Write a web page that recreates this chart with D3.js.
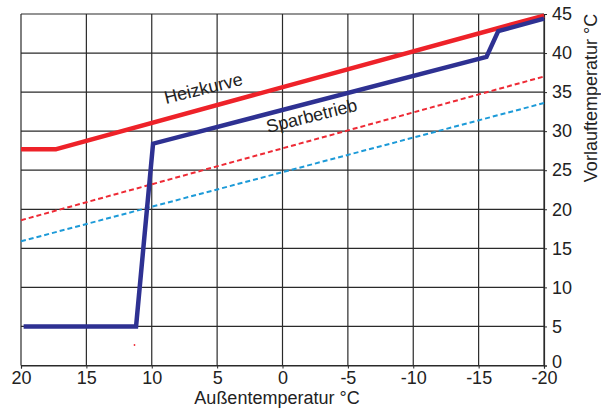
<!DOCTYPE html>
<html><head><meta charset="utf-8">
<script src="https://cdn.jsdelivr.net/npm/d3@7"></script>
<style>body{margin:0;background:#fff}svg{display:block}text{font-family:"Liberation Sans",Arial,sans-serif;fill:#222}</style>
</head><body><svg id="c" width="601" height="410"></svg>
<script>
// Data
const xTicks = [20, 15, 10, 5, 0, -5, -10, -15, -20];
const yTicks = [0, 5, 10, 15, 20, 25, 30, 35, 40, 45];
const heizkurveX = [20, 17.3, -20];
const heizkurveY = [27.7, 27.7, 44.8];
const sparX = [19.8, 11.2, 9.9, -15.6, -16.5, -20];
const sparY = [5.0, 5.0, 28.4, 39.5, 42.8, 44.4];
const redDashX = [20, -20];
const redDashY = [18.6, 37.0];
const blueDashX = [20, -20];
const blueDashY = [15.9, 33.6];
const labels = ["Heizkurve", "Sparbetrieb"];
const xTitle = "Außentemperatur °C";
const yTitle = "Vorlauftemperatur °C";

const svg = d3.select("#c");
const L = 21, R = 544, T = 14, B = 365.5;
const x = d3.scaleLinear().domain([20, -20]).range([L, R]);
const y = d3.scaleLinear().domain([0, 45]).range([B, T]);

// grid
const g = svg.append("g");
g.selectAll(".vx").data(xTicks).join("line")
  .attr("x1", d => x(d)).attr("x2", d => x(d)).attr("y1", T).attr("y2", B)
  .attr("stroke", "#2a2a2a").attr("stroke-width", 1.2);
g.selectAll(".hy").data(yTicks).join("line")
  .attr("y1", d => y(d)).attr("y2", d => y(d)).attr("x1", L).attr("x2", R)
  .attr("stroke", "#2a2a2a").attr("stroke-width", 1.2);

// axes
const xAxis = d3.axisBottom(x).tickValues(xTicks).tickSize(3).tickFormat(d => d < 0 ? "-" + Math.abs(d) : d);
const ax = svg.append("g").attr("transform", `translate(0,${B})`).call(xAxis);
ax.select(".domain").attr("stroke", "#2a2a2a").attr("stroke-width", 1.2);
ax.selectAll(".tick line").attr("stroke", "#2a2a2a");
ax.selectAll("text").attr("font-size", 18).attr("dy", "0.85em").attr("y", 3)
  .style("font-family", '"Liberation Sans",Arial,sans-serif').attr("fill", "#222");

const yAxis = d3.axisRight(y).tickValues(yTicks).tickSize(3);
const ay = svg.append("g").attr("transform", `translate(${R},0)`).call(yAxis);
ay.select(".domain").attr("stroke", "#2a2a2a").attr("stroke-width", 1.2);
ay.selectAll(".tick line").attr("stroke", "#2a2a2a");
ay.selectAll("text").attr("font-size", 18).attr("x", 8).attr("dy", d => d === 0 ? "0.12em" : "0.32em")
  .style("font-family", '"Liberation Sans",Arial,sans-serif').attr("fill", "#222");

// lines
const line = d3.line().x(d => x(d[0])).y(d => y(d[1]));
const zip = (a, b) => a.map((v, i) => [v, b[i]]);
svg.append("path").datum(zip(redDashX, redDashY)).attr("d", line)
  .attr("fill", "none").attr("stroke", "#ee2a35").attr("stroke-width", 2).attr("stroke-dasharray", "5,3");
svg.append("path").datum(zip(blueDashX, blueDashY)).attr("d", line)
  .attr("fill", "none").attr("stroke", "#1c9ad8").attr("stroke-width", 2).attr("stroke-dasharray", "5,3");
svg.append("path").datum(zip(heizkurveX, heizkurveY)).attr("d", line)
  .attr("fill", "none").attr("stroke", "#ee2229").attr("stroke-width", 4.5).attr("stroke-linejoin", "round");
svg.append("path").datum(zip(sparX, sparY)).attr("d", line)
  .attr("fill", "none").attr("stroke", "#2e3192").attr("stroke-width", 4.5).attr("stroke-linejoin", "miter");

// stray mark
svg.append("circle").attr("cx", 134.5).attr("cy", 345).attr("r", 0.9).attr("fill", "#ee2a35");

// curve labels
svg.append("text").text(labels[0]).attr("font-size", 18)
  .attr("transform", "translate(166,104) rotate(-14)");
svg.append("text").text(labels[1]).attr("font-size", 18)
  .attr("transform", "translate(268,133) rotate(-14)");

// titles
svg.append("text").text(xTitle).attr("font-size", 18).attr("text-anchor", "middle")
  .attr("x", 277).attr("y", 404);
svg.append("text").text(yTitle).attr("font-size", 18).attr("text-anchor", "middle")
  .attr("transform", "translate(597,98) rotate(-90)");
</script></body></html>
